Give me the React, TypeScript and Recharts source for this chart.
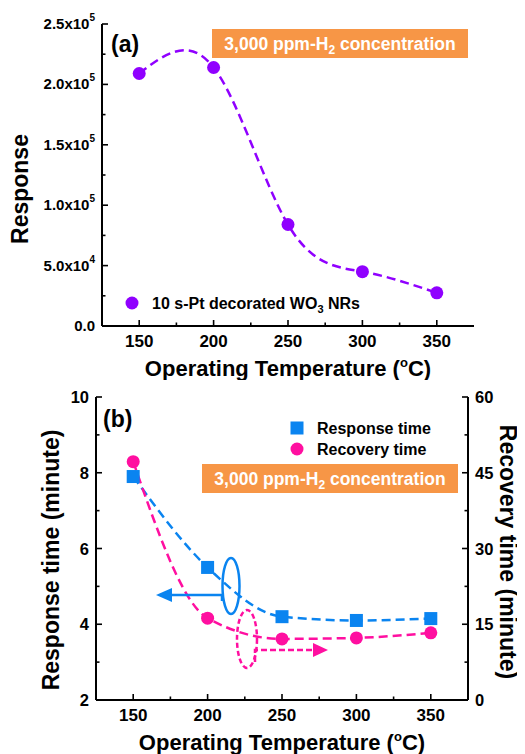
import React from 'react';
import { LineChart, Line, XAxis, YAxis } from 'recharts';

const temps = [150, 200, 250, 300, 350];
const response = [209000, 214000, 84000, 45000, 27500];
const responseTime = [7.9, 5.5, 4.2, 4.1, 4.15];
const recoveryTime = [47.2, 16.2, 12.1, 12.3, 13.3];

const xDomain: [number, number] = [125, 375];
const xTicks = [150, 175, 200, 225, 250, 275, 300, 325, 350];
const xMajor = [150, 200, 250, 300, 350];
const respDomain: [number, number] = [0, 250000];
const respTicks = [0, 25000, 50000, 75000, 100000, 125000, 150000, 175000, 200000, 225000, 250000];
const respMajor = [0, 50000, 100000, 150000, 200000, 250000];
const rtDomain: [number, number] = [2, 10];
const rtTicks = [2, 3, 4, 5, 6, 7, 8, 9, 10];
const rtMajor = [2, 4, 6, 8, 10];
const recDomain: [number, number] = [0, 60];
const recTicks = [0, 7.5, 15, 22.5, 30, 37.5, 45, 52.5, 60];
const recMajor = [0, 15, 30, 45, 60];

const FONT = '"Liberation Sans", Arial, sans-serif';
const INK = '#000';
const PURPLE = '#9000FF';
const BLUE = '#0A84F0';
const PINK = '#FF0FA0';
const ORANGE = '#F79646';

const sciLabel = (v: number) => {
  if (v === 0) return { base: '0.0', exp: '' };
  const exp = Math.floor(Math.log10(v));
  return { base: `${(v / Math.pow(10, exp)).toFixed(1)}x10`, exp: String(exp) };
};

type Side = 'bottom' | 'top' | 'left' | 'right';

// tickSize/tickMargin are 0, so (x, y) sits on the axis line: draw the tick inward, the label outward
const makeTick =
  (side: Side, majors: number[], fontSize: number, sci = false) =>
  (props: any) => {
    const x = Number(props.x);
    const y = Number(props.y);
    const v = props.payload.value;
    const major = majors.includes(v);
    const len = major ? 6 : 3.5;
    let d = '';
    if (side === 'bottom') d = `M${x},${y}V${y - len}`;
    else if (side === 'top') d = `M${x},${y}V${y + len}`;
    else if (side === 'left') d = `M${x},${y}H${x + len}`;
    else d = `M${x},${y}H${x - len}`;
    let label = null;
    if (major && side === 'bottom') {
      label = (
        <text x={x} y={y + 21} textAnchor="middle" fontSize={fontSize} fontWeight="bold" fill={INK} fontFamily={FONT}>
          {v}
        </text>
      );
    } else if (major && side === 'left') {
      const s = sci ? sciLabel(v) : { base: String(v), exp: '' };
      label = (
        <text x={x - 7} y={y + (sci ? 5 : 6)} textAnchor="end" fontSize={fontSize} fontWeight="bold" fill={INK} fontFamily={FONT}>
          {s.base}
          {s.exp && (
            <tspan dy={-8} fontSize={10}>
              {s.exp}
            </tspan>
          )}
        </text>
      );
    } else if (major && side === 'right') {
      label = (
        <text x={x + 7} y={y + 6} textAnchor="start" fontSize={fontSize} fontWeight="bold" fill={INK} fontFamily={FONT}>
          {v}
        </text>
      );
    }
    return (
      <g>
        <path d={d} stroke={INK} strokeWidth={1.6} fill="none" />
        {label}
      </g>
    );
  };

const SquareDot = (props: any) => {
  const { cx, cy } = props;
  if (cx == null || cy == null) return null;
  return <rect x={cx - 6.5} y={cy - 6.5} width={13} height={13} fill={BLUE} />;
};

const CircleDot = (color: string) => (props: any) => {
  const { cx, cy } = props;
  if (cx == null || cy == null) return null;
  return <circle cx={cx} cy={cy} r={6.5} fill={color} />;
};

const TempLabel = ({ x, y }: { x: number; y: number }) => (
  <text x={x} y={y} textAnchor="middle" fontSize={22} fontWeight="bold" fill={INK}>
    Operating Temperature (<tspan dy={-9} fontSize={13}>o</tspan>
    <tspan dy={9}>C)</tspan>
  </text>
);

const Conc = ({ x, y, w, h }: { x: number; y: number; w: number; h: number }) => (
  <g>
    <rect x={x} y={y} width={w} height={h} fill={ORANGE} />
    <text x={x + w / 2} y={y + 21} textAnchor="middle" fontSize={17.5} fontWeight="bold" fill="#fff">
      3,000 ppm-H<tspan dy={4} fontSize={12}>2</tspan>
      <tspan dy={-4}> concentration</tspan>
    </text>
  </g>
);

const topData = temps.map((t, i) => ({ t, response: response[i] }));
const bottomData = temps.map((t, i) => ({ t, rt: responseTime[i], rec: recoveryTime[i] }));

const over: React.CSSProperties = { position: 'absolute', left: 0, top: 0, pointerEvents: 'none' };
const axisLine = { stroke: INK, strokeWidth: 2 };
const axisCommon = { tickSize: 0, tickMargin: 0, tickLine: false, axisLine, interval: 0 as const };

const TopChart = () => (
  <div style={{ position: 'relative', width: 525, height: 380 }}>
    <LineChart width={525} height={380} data={topData} margin={{ top: 24, right: 51, bottom: 24, left: 0 }}>
      <XAxis xAxisId="b" type="number" dataKey="t" domain={xDomain} ticks={xTicks} height={30}
        {...axisCommon} tick={makeTick('bottom', xMajor, 17)} />
      <XAxis xAxisId="t" orientation="top" type="number" dataKey="t" domain={xDomain} ticks={xTicks} height={0}
        {...axisCommon} tick={makeTick('top', xMajor, 17)} />
      <YAxis yAxisId="l" type="number" domain={respDomain} ticks={respTicks} width={102}
        {...axisCommon} tick={makeTick('left', respMajor, 15, true)} />
      <YAxis yAxisId="r" orientation="right" type="number" domain={respDomain} ticks={respTicks} width={0}
        {...axisCommon} tick={makeTick('right', respMajor, 15)} />
      <Line xAxisId="b" yAxisId="l" type="natural" dataKey="response" stroke={PURPLE} strokeWidth={2.5}
        strokeDasharray="9 5" dot={CircleDot(PURPLE)} isAnimationActive={false} />
    </LineChart>
    <svg width={525} height={380} style={over} fontFamily={FONT}>
      <text transform="translate(28,189) rotate(-90)" textAnchor="middle" fontSize={23} fontWeight="bold" fill={INK}>
        Response
      </text>
      <TempLabel x={288} y={376} />
      <text x={111} y={52} fontSize={23} fontWeight="bold" fill={INK}>(a)</text>
      <Conc x={212} y={29} w={256} h={29} />
      <circle cx={132} cy={303} r={6.5} fill={PURPLE} />
      <text x={152} y={309} fontSize={16} fontWeight="bold" fill={INK}>
        10 s-Pt decorated WO<tspan dy={4} fontSize={11}>3</tspan>
        <tspan dy={-4}> NRs</tspan>
      </text>
    </svg>
  </div>
);

const BottomChart = () => (
  <div style={{ position: 'relative', width: 525, height: 374 }}>
    <LineChart width={525} height={374} data={bottomData} margin={{ top: 17, right: 0, bottom: 24, left: 0 }}>
      <XAxis xAxisId="b" type="number" dataKey="t" domain={xDomain} ticks={xTicks} height={30}
        {...axisCommon} tick={makeTick('bottom', xMajor, 17)} />
      <XAxis xAxisId="t" orientation="top" type="number" dataKey="t" domain={xDomain} ticks={xTicks} height={0}
        {...axisCommon} tick={makeTick('top', xMajor, 17)} />
      <YAxis yAxisId="l" type="number" domain={rtDomain} ticks={rtTicks} width={96}
        {...axisCommon} tick={makeTick('left', rtMajor, 16.5)} />
      <YAxis yAxisId="r" orientation="right" type="number" domain={recDomain} ticks={recTicks} width={57}
        {...axisCommon} tick={makeTick('right', recMajor, 16.5)} />
      <Line xAxisId="b" yAxisId="l" type="monotone" dataKey="rt" stroke={BLUE} strokeWidth={2.5}
        strokeDasharray="9 5" dot={SquareDot} isAnimationActive={false} />
      <Line xAxisId="b" yAxisId="r" type="monotone" dataKey="rec" stroke={PINK} strokeWidth={2.5}
        strokeDasharray="9 5" dot={CircleDot(PINK)} isAnimationActive={false} />
    </LineChart>
    <svg width={525} height={374} style={over} fontFamily={FONT}>
      <text transform="translate(59,180) rotate(-90)" textAnchor="middle" fontSize={23} fontWeight="bold" fill={INK}>
        Response time (minute)
      </text>
      <text transform="translate(500,172) rotate(90)" textAnchor="middle" fontSize={23} fontWeight="bold" fill={INK}>
        Recovery time (minute)
      </text>
      <TempLabel x={282} y={370} />
      <text x={103} y={47} fontSize={23} fontWeight="bold" fill={INK}>(b)</text>
      <Conc x={202} y={84} w={256} h={29} />
      <rect x={290.5} y={41.5} width={13} height={13} fill={BLUE} />
      <text x={317} y={54} fontSize={16} fontWeight="bold" fill={INK}>Response time</text>
      <circle cx={297} cy={69} r={6.5} fill={PINK} />
      <text x={317} y={75} fontSize={16} fontWeight="bold" fill={INK}>Recovery time</text>
      {/* arrows pointing to the axes */}
      <ellipse cx={231} cy={206} rx={8.5} ry={28} fill="none" stroke={BLUE} strokeWidth={2.5} />
      <polyline points="222,221 222,215 170,215" fill="none" stroke={BLUE} strokeWidth={2.5} />
      <polygon points="156,215 172,208 172,222" fill={BLUE} />
      <ellipse cx={247} cy={259} rx={10} ry={29} fill="none" stroke={PINK} strokeWidth={2.5} strokeDasharray="5 3" />
      <polyline points="255,282 255,270 314,270" fill="none" stroke={PINK} strokeWidth={2.5} strokeDasharray="6 3" />
      <polygon points="328,270 313,263 313,277" fill={PINK} />
    </svg>
  </div>
);

export default function App() {
  return (
    <div style={{ margin: '-8px 0 0 -8px', width: 525, height: 754, fontFamily: FONT }}>
      <TopChart />
      <BottomChart />
    </div>
  );
}
